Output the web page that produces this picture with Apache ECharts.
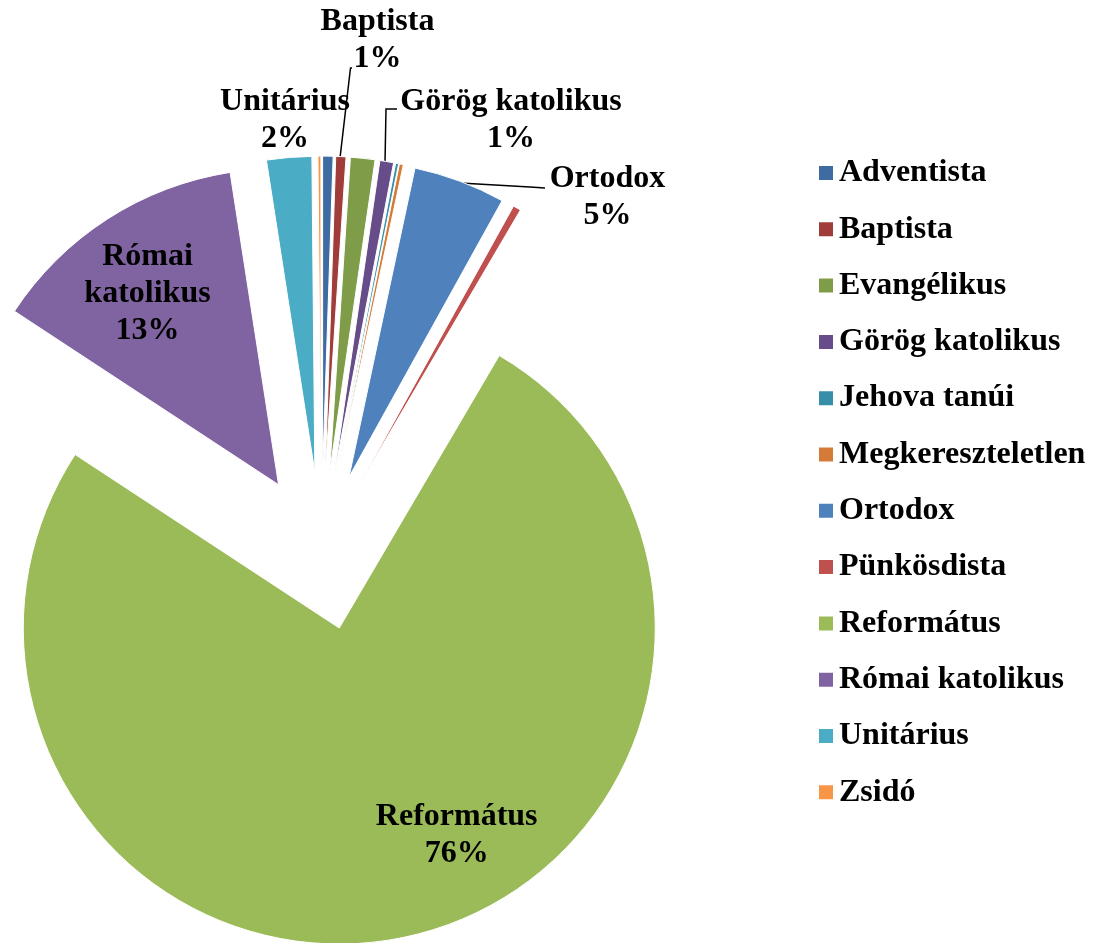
<!DOCTYPE html>
<html><head><meta charset="utf-8">
<script src="https://cdn.jsdelivr.net/npm/echarts@6/dist/echarts.min.js"></script>
<style>html,body{margin:0;padding:0;background:#fff}#c{width:1093px;height:943px}</style>
</head><body><div id="c"></div>
<script>
const categories = ['Adventista','Baptista','Evangélikus','Görög katolikus','Jehova tanúi','Megkereszteletlen','Ortodox','Pünkösdista','Református','Római katolikus','Unitárius','Zsidó'];
const shares = [0.53, 0.52, 1.25, 0.7, 0.15, 0.2, 4.7, 0.4, 75.8, 13.3, 2.3, 0.15];
const colors = ['#3F6BA3','#A03D3A','#7F9C48','#664D89','#378EA8','#D47B38','#4F81BD','#C0504D','#9BBB59','#8064A2','#4BACC6','#F79646'];
const labelledNames = ['Baptista','Unitárius','Görög katolikus','Ortodox','Római katolikus','Református'];
const guidedNames = ['Baptista','Görög katolikus','Ortodox'];

const FONT = "'Liberation Serif','Times New Roman',serif";

// label placement (layout only)
const labelPlace = {
  'Baptista':        {x: 377.5, y: 40,  line: [[352,68],[350.5,68],[340,158]]},
  'Unitárius':       {x: 285,   y: 120},
  'Görög katolikus': {x: 511,   y: 120, line: [[397,109],[386,109],[385,163]]},
  'Ortodox':         {x: 607.5, y: 197.5, line: [[545,188],[530,187],[460,183]]},
  'Római katolikus': {x: 147.5, y: 294},
  'Református':      {x: 456.7, y: 835}
};

const PIE_CENTER = [321.3, 551.1];
const PIE_RADIUS = [0, 316];

const chart = echarts.init(document.getElementById('c'), null, {renderer: 'canvas'});
const option = {
  animation: false,
  backgroundColor: '#fff',
  color: colors,
  legend: {
    orient: 'vertical', left: 812, top: 148,
    icon: 'rect', itemWidth: 16, itemHeight: 16, itemGap: 16.3,
    selectedMode: false,
    textStyle: {fontFamily: FONT, fontWeight: 'bold', fontSize: 32, lineHeight: 40, color: '#000'},
    data: categories
  },
  series: [{
    // exploded slices
    type: 'pie',
    center: PIE_CENTER,
    radius: PIE_RADIUS,
    startAngle: 90,
    clockwise: true,
    selectedMode: 'multiple',
    selectedOffset: 79,
    itemStyle: {borderColor: '#fff', borderWidth: 1},
    emphasis: {disabled: true},
    select: {itemStyle: {borderColor: '#fff', borderWidth: 1}},
    label: {show: false},
    labelLine: {show: false},
    data: categories.map((n, i) => ({name: n, value: shares[i], selected: true}))
  }, {
    // data labels (transparent twin of the pie)
    type: 'pie',
    center: PIE_CENTER,
    radius: PIE_RADIUS,
    startAngle: 90,
    clockwise: true,
    silent: true,
    selectedMode: false,
    avoidLabelOverlap: false,
    itemStyle: {color: 'rgba(0,0,0,0)', borderWidth: 0},
    emphasis: {disabled: true},
    label: {
      show: true, fontFamily: FONT, fontWeight: 'bold', fontSize: 32, lineHeight: 37, color: '#000',
      formatter: p => (p.name === 'Római katolikus' ? 'Római\nkatolikus' : p.name) + '\n' + Math.round(p.percent) + '%'
    },
    labelLine: {show: true, lineStyle: {color: '#000', width: 1.5}},
    labelLayout: function (params) {
      const name = categories[params.dataIndex];
      const pl = labelPlace[name];
      if (!pl) return {};
      const out = {x: pl.x, y: pl.y, align: 'center', verticalAlign: 'middle'};
      if (pl.line) out.labelLinePoints = pl.line;
      return out;
    },
    data: categories.map((n, i) => ({
      name: n,
      value: shares[i],
      label: {show: labelledNames.includes(n), position: (guidedNames.includes(n) || n === 'Unitárius') ? 'outside' : 'inside'},
      labelLine: {show: guidedNames.includes(n)}
    }))
  }]
};
chart.setOption(option);
</script>
</body></html>
